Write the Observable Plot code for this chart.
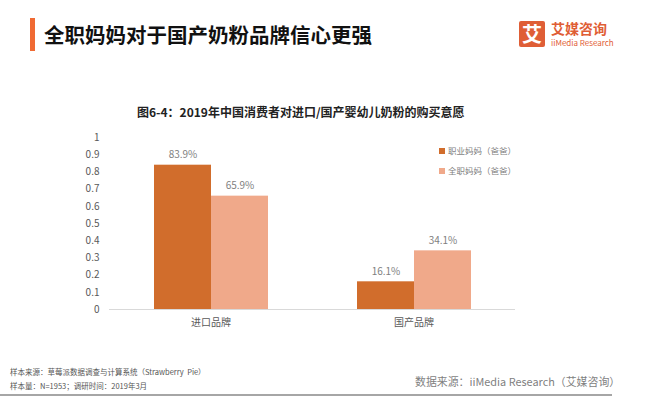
<!DOCTYPE html>
<html><head><meta charset="utf-8">
<script src="https://cdn.jsdelivr.net/npm/d3@7"></script>
<script src="https://cdn.jsdelivr.net/npm/@observablehq/plot@0.6"></script>
<style>
body{margin:0;background:#fff;font-family:"Noto Sans CJK SC","Noto Sans",sans-serif;}
#page{position:relative;width:652px;height:397px;overflow:hidden;background:#fff}
.abs{position:absolute;white-space:nowrap;line-height:1}
#chart{position:absolute;left:0;top:128px}
.lg{position:absolute;font-size:8.5px;color:#7f7f7f;line-height:1;white-space:nowrap}
.lg i{display:inline-block;width:6px;height:6px;margin-right:3px;vertical-align:0px}
</style></head><body><div id="page">
<div class="abs" style="left:30px;top:18px;width:5px;height:33px;background:#F06A33"></div>
<div class="abs" style="left:44px;top:24px;font-size:20.5px;font-weight:bold;color:#111">全职妈妈对于国产奶粉品牌信心更强</div>
<div class="abs" style="left:519px;top:21px;width:26px;height:26px;background:#DF5E36;border-radius:2px;color:#fff;font-size:20px;font-weight:bold;text-align:center;line-height:26px">艾</div>
<div class="abs" style="left:551px;top:21px;font-size:14px;font-weight:bold;color:#DF5E36">艾媒咨询</div>
<div class="abs" style="left:551px;top:38.5px;font-size:8px;color:#DF5E36">iiMedia Research</div>
<div class="abs" style="left:137px;top:106px;font-size:12px;font-weight:bold;color:#222">图6-4：2019年中国消费者对进口/国产婴幼儿奶粉的购买意愿</div>
<div id="chart"></div>
<div id="legend"></div>
<div class="abs" style="left:10px;top:368px;font-size:7.5px;color:#555">样本来源：草莓派数据调查与计算系统（Strawberry&nbsp;&nbsp;Pie）</div>
<div class="abs" style="left:10px;top:382px;font-size:7.5px;color:#555">样本量：N=1953；调研时间：2019年3月</div>
<div class="abs" style="left:415px;top:376px;font-size:10.9px;color:#7f7f7f">数据来源：iiMedia Research（艾媒咨询）</div>
<div class="abs" style="left:0px;top:394px;width:612px;height:2px;background:#a6a6a6"></div>
</div>
<script>
const brands = ["进口品牌", "国产品牌"];
const series = ["职业妈妈（爸爸）", "全职妈妈（爸爸）"];
const workingValues = [0.839, 0.161];
const fulltimeValues = [0.659, 0.341];
const colors = ["#D16D2C", "#F0A98A"];
const yTicks = [0, 0.1, 0.2, 0.3, 0.4, 0.5, 0.6, 0.7, 0.8, 0.9, 1];

const data = [];
brands.forEach((b, i) => {
  data.push({brand: b, series: series[0], value: workingValues[i]});
  data.push({brand: b, series: series[1], value: fulltimeValues[i]});
});

const chart = Plot.plot({
  width: 652,
  height: 210,
  marginLeft: 109,
  marginRight: 137,
  marginTop: 9,
  marginBottom: 29,
  style: {fontFamily: '"Noto Sans CJK SC","Noto Sans",sans-serif', fontSize: "10px", color: "#595959", background: "transparent"},
  fx: {domain: brands, padding: 0, axis: "bottom", tickSize: 0, tickPadding: 9, label: null},
  x: {domain: series, axis: null, paddingInner: 0, paddingOuter: 0.77},
  y: {domain: [0, 1], ticks: yTicks, tickSize: 0, tickPadding: 10, tickFormat: d3.format("~g"), label: null},
  color: {domain: series, range: colors},
  marks: [
    Plot.barY(data, {fx: "brand", x: "series", y: "value", fill: "series"}),
    Plot.ruleY([0], {stroke: "#d9d9d9"}),
    Plot.text(data, {fx: "brand", x: "series", y: "value", text: d => (d.value * 100).toFixed(1) + "%", dy: -10, fill: "#7f7f7f", fontSize: 10})
  ]
});
document.getElementById("chart").appendChild(chart);

const legend = document.getElementById("legend");
series.forEach((s, i) => {
  const el = document.createElement("div");
  el.className = "lg";
  el.style.left = "439px";
  el.style.top = (146 + i * 20) + "px";
  el.innerHTML = `<i style="background:${colors[i]}"></i>${s}`;
  legend.appendChild(el);
});
</script>
</body></html>
